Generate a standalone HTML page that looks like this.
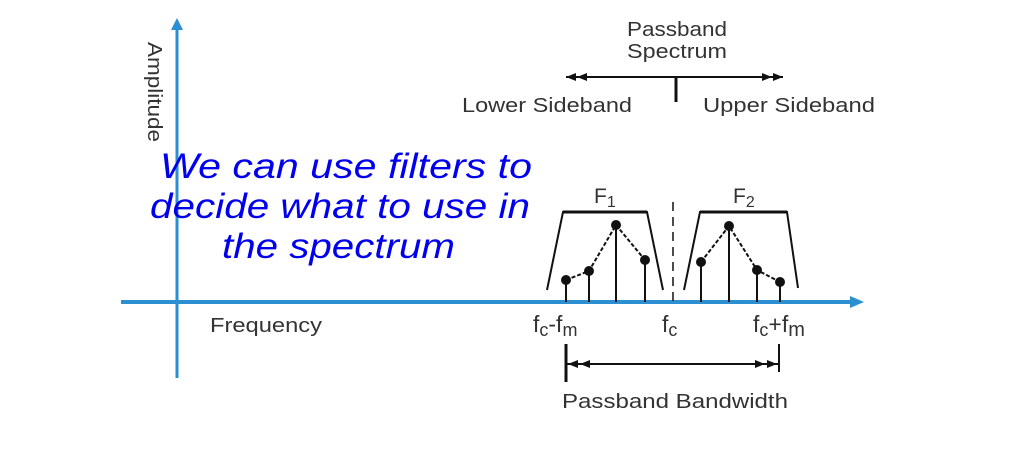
<!DOCTYPE html>
<html><head><meta charset="utf-8"><style>
html,body{margin:0;padding:0;background:#fff;}
svg{display:block;}
text{font-family:"Liberation Sans",sans-serif;fill:#333;}
</style></head><body>
<svg width="1024" height="453" viewBox="0 0 1024 453">
<line x1="177" y1="378" x2="177" y2="28" stroke="#2b8fd2" stroke-width="3"/>
<path d="M171,30 L177,18 L183,30 Z" fill="#2b8fd2"/>
<line x1="121" y1="302" x2="852" y2="302" stroke="#2b8fd2" stroke-width="4"/>
<path d="M850,296 L864,302 L850,308 Z" fill="#2b8fd2"/>
<text transform="translate(148,42) rotate(90)" font-size="20" textLength="100" lengthAdjust="spacingAndGlyphs">Amplitude</text>
<text x="210" y="332" font-size="20" textLength="112" lengthAdjust="spacingAndGlyphs">Frequency</text>
<text x="627" y="36" font-size="20" textLength="100" lengthAdjust="spacingAndGlyphs">Passband</text>
<text x="627" y="58" font-size="20" textLength="100" lengthAdjust="spacingAndGlyphs">Spectrum</text>
<line x1="566" y1="77" x2="783" y2="77" stroke="#111" stroke-width="2"/>
<path d="M566,77 L576,73 L576,81 Z M577,77 L587,73 L587,81 Z" fill="#111"/>
<path d="M783,77 L773,73 L773,81 Z M772,77 L762,73 L762,81 Z" fill="#111"/>
<line x1="676" y1="77" x2="676" y2="102" stroke="#111" stroke-width="3"/>
<text x="462" y="112" font-size="20" textLength="170" lengthAdjust="spacingAndGlyphs">Lower Sideband</text>
<text x="703" y="112" font-size="20" textLength="172" lengthAdjust="spacingAndGlyphs">Upper Sideband</text>
<g fill="none" stroke="#111" stroke-width="2">
<polyline points="547,290 563,212 647,212 663,290"/>
<polyline points="684,290 700,212 787,212 798,288"/>
<line x1="563" y1="212" x2="647" y2="212" stroke-width="3"/>
<line x1="700" y1="212" x2="787" y2="212" stroke-width="3"/>
<line x1="673" y1="202" x2="673" y2="302" stroke-dasharray="9,6" stroke-width="1.5"/>
<polyline points="566,280 589,271 616,225 645,260" stroke-dasharray="4,2"/>
<polyline points="701,262 729,226 757,270 780,282" stroke-dasharray="4,2"/>
<line x1="566" y1="280" x2="566" y2="302"/><line x1="589" y1="271" x2="589" y2="302"/>
<line x1="616" y1="225" x2="616" y2="302"/><line x1="645" y1="260" x2="645" y2="302"/>
<line x1="701" y1="262" x2="701" y2="302"/><line x1="729" y1="226" x2="729" y2="302"/>
<line x1="757" y1="270" x2="757" y2="302"/><line x1="780" y1="282" x2="780" y2="302"/>
</g>
<g fill="#111">
<circle cx="566" cy="280" r="5"/><circle cx="589" cy="271" r="5"/><circle cx="616" cy="225" r="5"/><circle cx="645" cy="260" r="5"/>
<circle cx="701" cy="262" r="5"/><circle cx="729" cy="226" r="5"/><circle cx="757" cy="270" r="5"/><circle cx="780" cy="282" r="5"/>
</g>
<text x="594" y="203" font-size="21">F<tspan font-size="16" dy="4">1</tspan></text>
<text x="733" y="203" font-size="21">F<tspan font-size="16" dy="4">2</tspan></text>
<text x="533" y="332" font-size="23">f<tspan font-size="18" dy="4">c</tspan><tspan dy="-4">-f</tspan><tspan font-size="18" dy="4">m</tspan></text>
<text x="662" y="332" font-size="23">f<tspan font-size="18" dy="4">c</tspan></text>
<text x="753" y="332" font-size="23">f<tspan font-size="18" dy="4">c</tspan><tspan dy="-4">+f</tspan><tspan font-size="20" dy="4">m</tspan></text>
<line x1="566" y1="344" x2="566" y2="382" stroke="#111" stroke-width="3"/>
<line x1="779" y1="344" x2="779" y2="372" stroke="#111" stroke-width="2"/>
<line x1="567" y1="364" x2="778" y2="364" stroke="#111" stroke-width="2"/>
<path d="M568,364 L578,360 L578,368 Z M580,364 L590,360 L590,368 Z M777,364 L767,360 L767,368 Z M765,364 L755,360 L755,368 Z" fill="#111"/>
<text x="562" y="408" font-size="20" textLength="226" lengthAdjust="spacingAndGlyphs">Passband Bandwidth</text>
<g font-style="italic" font-size="35">
<text x="160" y="178" style="fill:#0000ee" textLength="372" lengthAdjust="spacingAndGlyphs">We can use filters to</text>
<text x="150" y="218" style="fill:#0000ee" textLength="380" lengthAdjust="spacingAndGlyphs">decide what to use in</text>
<text x="222" y="258" style="fill:#0000ee" textLength="233" lengthAdjust="spacingAndGlyphs">the spectrum</text>
</g>
</svg>
</body></html>
